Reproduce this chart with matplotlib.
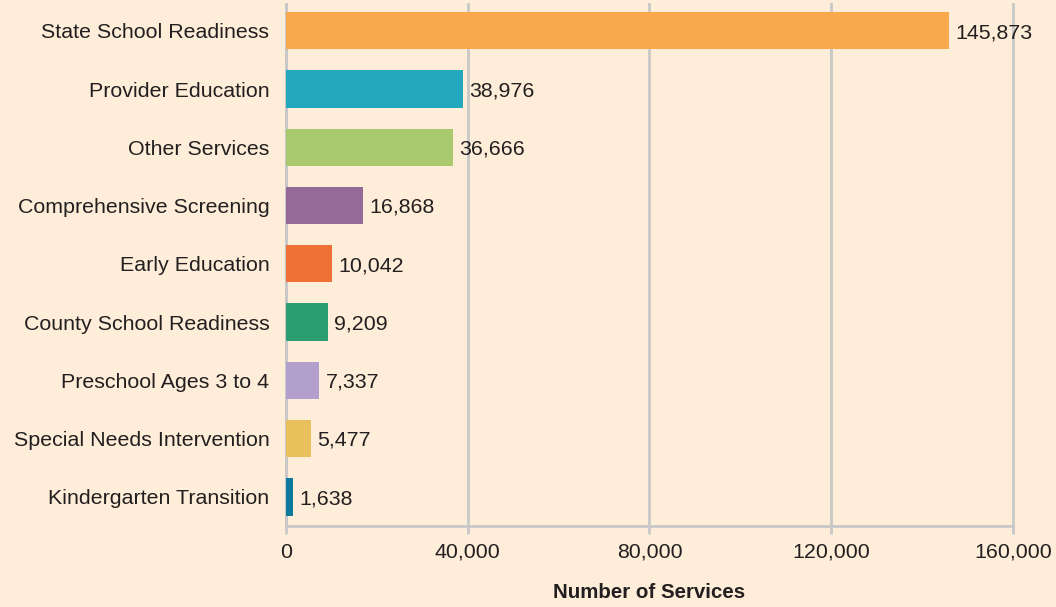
import matplotlib
matplotlib.use("Agg")
import matplotlib.pyplot as plt
from matplotlib.ticker import FuncFormatter

categories = ["State School Readiness", "Provider Education", "Other Services",
              "Comprehensive Screening", "Early Education", "County School Readiness",
              "Preschool Ages 3 to 4", "Special Needs Intervention", "Kindergarten Transition"]
values = [145873, 38976, 36666, 16868, 10042, 9209, 7337, 5477, 1638]
colors = ["#F9A94B", "#23A8BD", "#A8C96E", "#946A98", "#F07136",
          "#2A9E6E", "#B39FCB", "#E8C15C", "#0F789D"]
xticks = [0, 40000, 80000, 120000, 160000]

bg = "#FEEDD8"
grid = "#C8C8C8"
txt = "#231F20"
fs = 15.4
plt.rcParams['font.family'] = ['Liberation Sans', 'DejaVu Sans']

fig = plt.figure(figsize=(10.56, 6.07), dpi=100, facecolor=bg)
ax = fig.add_axes([0.2708, 0.1334, 0.6885, 0.8600])
ax.set_facecolor(bg)

y = list(range(len(categories)))
ax.barh(y, values, height=0.64, color=colors, zorder=3)
for yi, v in zip(y, values):
    ax.text(v + 1400, yi + 0.03, f"{v:,}", va="center", ha="left", fontsize=fs, color=txt, zorder=4)

ax.set_xlim(0, 160000)
ax.set_ylim(8.5, -0.46)
ax.set_yticks(y)
ax.set_yticklabels(categories, fontsize=fs, color=txt)
ax.set_xticks(xticks)
ax.xaxis.set_major_formatter(FuncFormatter(lambda v, p: f"{int(v):,}"))
ax.tick_params(axis="x", labelsize=fs, colors=txt, length=6, width=2, color=grid, pad=6)
ax.tick_params(axis="y", length=0, pad=12)
for lab in ax.get_xticklabels():
    lab.set_color(txt)
for t in xticks:
    ax.axvline(t, color=grid, linewidth=2, zorder=1, clip_on=False)
for s in ["top", "right"]:
    ax.spines[s].set_visible(False)
ax.spines["left"].set_color(grid)
ax.spines["left"].set_linewidth(2)
ax.spines["bottom"].set_color(grid)
ax.spines["bottom"].set_linewidth(2)
ax.set_xlabel("Number of Services", fontsize=14.8, fontweight="bold", color=txt, labelpad=15)

fig.savefig("out.png", dpi=100, facecolor=bg)
